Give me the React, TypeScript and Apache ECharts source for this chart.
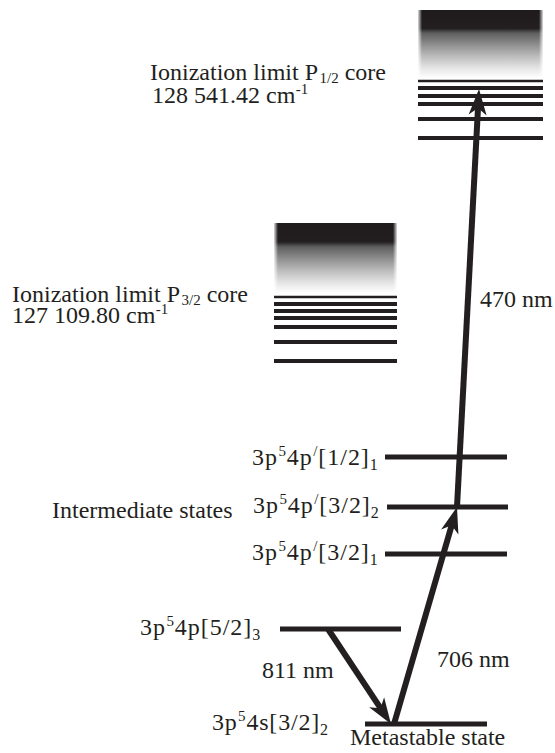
import React, { useEffect, useRef } from "react";
import * as echarts from "echarts";

const INK = "#231f20";
const FAMILY = "Liberation Serif";
const W = 555;
const H = 753;

// ---- diagram data (x in figure units, E = height above figure bottom) ----
const stateNames = ["4s[3/2]2", "4p[5/2]3", "4p'[3/2]1", "4p'[3/2]2", "4p'[1/2]1"];
const stateEnergy = [29, 124, 199, 246, 296];
const stateFrom = [365, 280, 385, 387, 385];
const stateTo = [487, 401, 507, 508, 507];

const rydbergP32 = [456, 449, 442, 435, 426, 411, 392];
const rydbergP12 = [672, 665, 657, 649, 634, 615];
const rydbergSpanP32 = [274, 397];
const rydbergSpanP12 = [418, 543];
const continuumP32 = [460, 530];
const continuumP12 = [675, 743];

const transitionNames = ["811 nm", "706 nm", "470 nm"];
const transitionStart = [[328, 124], [394, 29], [457, 246]];
const transitionEnd = [[391, 29], [457, 246], [479, 664]];

// ---- labels: pieces [text, kind] ----
const labelPieces: [string, string][][] = [
  [["Ionization limit P", "n"], ["1/2", "subP"], [" core", "n"]],
  [["128 541.42 cm", "n"], ["-1", "sup"]],
  [["Ionization limit P", "n"], ["3/2", "subP"], [" core", "n"]],
  [["127 109.80 cm", "n"], ["-1", "sup"]],
  [["470 nm", "n"]],
  [["3p", "n"], ["5", "sup"], ["4p", "n"], ["/", "sup"], ["[1/2]", "n"], ["1", "sub"]],
  [["3p", "n"], ["5", "sup"], ["4p", "n"], ["/", "sup"], ["[3/2]", "n"], ["2", "sub"]],
  [["3p", "n"], ["5", "sup"], ["4p", "n"], ["/", "sup"], ["[3/2]", "n"], ["1", "sub"]],
  [["Intermediate states", "n"]],
  [["3p", "n"], ["5", "sup"], ["4p[5/2]", "n"], ["3", "sub"]],
  [["811 nm", "n"]],
  [["706 nm", "n"]],
  [["3p", "n"], ["5", "sup"], ["4s[3/2]", "n"], ["2", "sub"]],
  [["Metastable state", "n"]],
];
// layout: left x, baseline y (pixels), letter spacing
const labelAnchor = [
  [150, 80], [152, 103], [12, 302], [12, 323], [480, 307],
  [252, 465], [253, 513], [252, 560], [52, 518], [140, 635],
  [262, 678], [437, 667], [212, 730], [350, 745],
];
const labelSpacing = [0, 0, 0, 0, 0, 0.95, 0.95, 0.95, 0, 0.95, 0, 0, 0.8, 0];
const pieceStyle: Record<string, { size: number; dy: number; gap: number }> = {
  n: { size: 24, dy: 0, gap: 0 },
  sub: { size: 16, dy: 5, gap: 0 },
  subP: { size: 15, dy: 3, gap: 1.5 },
  sup: { size: 15, dy: -9, gap: 0.5 },
};

function buildLabels() {
  const cv = document.createElement("canvas");
  const ctx = cv.getContext("2d")!;
  const out: any[] = [];
  labelPieces.forEach((pieces, i) => {
    let x = labelAnchor[i][0];
    const base = labelAnchor[i][1];
    const ls = labelSpacing[i];
    pieces.forEach(([t, kind]) => {
      const st = pieceStyle[kind];
      x += st.gap;
      ctx.font = `${st.size}px "${FAMILY}"`;
      const chunks = ls > 0 ? t.split("") : [t];
      chunks.forEach((c) => {
        const w = ctx.measureText(c).width;
        out.push({
          type: "text",
          x,
          y: base + st.dy - 0.3375 * st.size,
          silent: true,
          style: {
            text: c,
            fontSize: st.size,
            fontFamily: FAMILY,
            lineHeight: Math.round(st.size * 0.8),
            fill: INK,
            align: "left",
            verticalAlign: "middle",
          },
        });
        x += w + ls;
      });
    });
  });
  return out;
}

export default function App() {
  const ref = useRef<HTMLDivElement>(null);
  useEffect(() => {
    if (!ref.current) return;
    const chart = echarts.init(ref.current, undefined, { renderer: "svg" });

    const levelWidths = [5, 4, 2.5];
    const levels: number[][] = [];
    stateEnergy.forEach((e, i) => levels.push([stateFrom[i], stateTo[i], e, 0]));
    rydbergP32.forEach((e, i) => levels.push([rydbergSpanP32[0], rydbergSpanP32[1], e, i === 0 ? 2 : 1]));
    rydbergP12.forEach((e, i) => levels.push([rydbergSpanP12[0], rydbergSpanP12[1], e, i === 0 ? 2 : 1]));

    const continua = [
      [rydbergSpanP32[0], rydbergSpanP32[1], continuumP32[0], continuumP32[1]],
      [rydbergSpanP12[0], rydbergSpanP12[1], continuumP12[0], continuumP12[1]],
    ];

    const arrows = transitionNames.map((_, i) => [
      transitionStart[i][0], transitionStart[i][1], transitionEnd[i][0], transitionEnd[i][1],
    ]);

    const edgeFade = (dir: number) =>
      new echarts.graphic.LinearGradient(dir > 0 ? 0 : 1, 0, dir > 0 ? 1 : 0, 0, [
        { offset: 0, color: "rgba(255,255,255,0.85)" },
        { offset: 1, color: "rgba(255,255,255,0)" },
      ]);

    chart.setOption({
      animation: false,
      backgroundColor: "#ffffff",
      grid: { left: 0, right: 0, top: 0, bottom: 0 },
      xAxis: { type: "value", min: 0, max: W, show: false },
      yAxis: { type: "value", min: 0, max: H, show: false },
      series: [
        {
          type: "custom",
          name: "continuum",
          data: continua,
          renderItem: (params: any, api: any) => {
            const a = api.coord([api.value(0), api.value(3)]);
            const b = api.coord([api.value(1), api.value(2)]);
            const w = b[0] - a[0];
            const h = b[1] - a[1];
            const fw = 4;
            return {
              type: "group",
              children: [
                {
                  type: "rect",
                  shape: { x: a[0], y: a[1], width: w, height: h },
                  style: {
                    fill: new echarts.graphic.LinearGradient(0, 0, 0, 1, [
                      { offset: 0, color: "#1f1b1c" },
                      { offset: 0.27, color: "#231f20" },
                      { offset: 0.34, color: "#5e5e5e" },
                      { offset: 0.5, color: "#8c8c8c" },
                      { offset: 0.68, color: "#bcbcbc" },
                      { offset: 0.85, color: "#e4e4e4" },
                      { offset: 1, color: "#ffffff" },
                    ]),
                  },
                },
                {
                  type: "rect",
                  shape: { x: a[0], y: a[1], width: fw, height: h },
                  style: { fill: edgeFade(1) },
                },
                {
                  type: "rect",
                  shape: { x: b[0] - fw, y: a[1], width: fw, height: h },
                  style: { fill: edgeFade(-1) },
                },
              ],
            };
          },
        },
        {
          type: "custom",
          name: "levels",
          data: levels,
          renderItem: (params: any, api: any) => {
            const a = api.coord([api.value(0), api.value(2)]);
            const b = api.coord([api.value(1), api.value(2)]);
            const h = levelWidths[api.value(3)];
            return {
              type: "rect",
              shape: { x: a[0], y: a[1] - h / 2, width: b[0] - a[0], height: h },
              style: { fill: INK },
            };
          },
        },
        {
          type: "custom",
          name: "transitions",
          data: arrows,
          renderItem: (params: any, api: any) => {
            const a = api.coord([api.value(0), api.value(1)]);
            const b = api.coord([api.value(2), api.value(3)]);
            const dx = b[0] - a[0];
            const dy = b[1] - a[1];
            const len = Math.hypot(dx, dy);
            const ux = dx / len, uy = dy / len;
            const nx = -uy, ny = ux;
            const L = 26, HW = 9, N = 7;
            const base = [b[0] - ux * L, b[1] - uy * L];
            const notch = [b[0] - ux * (L - N), b[1] - uy * (L - N)];
            return {
              type: "group",
              children: [
                {
                  type: "line",
                  shape: { x1: a[0], y1: a[1], x2: notch[0] + ux * 3, y2: notch[1] + uy * 3 },
                  style: { stroke: INK, lineWidth: 6 },
                },
                {
                  type: "polygon",
                  shape: {
                    points: [
                      [b[0], b[1]],
                      [base[0] + nx * HW, base[1] + ny * HW],
                      notch,
                      [base[0] - nx * HW, base[1] - ny * HW],
                    ],
                  },
                  style: { fill: INK },
                },
              ],
            };
          },
        },
      ],
      graphic: buildLabels(),
    });
    return () => chart.dispose();
  }, []);
  return (
    <div
      ref={ref}
      style={{ position: "absolute", left: 0, top: 0, width: W, height: H, background: "#fff" }}
    />
  );
}
